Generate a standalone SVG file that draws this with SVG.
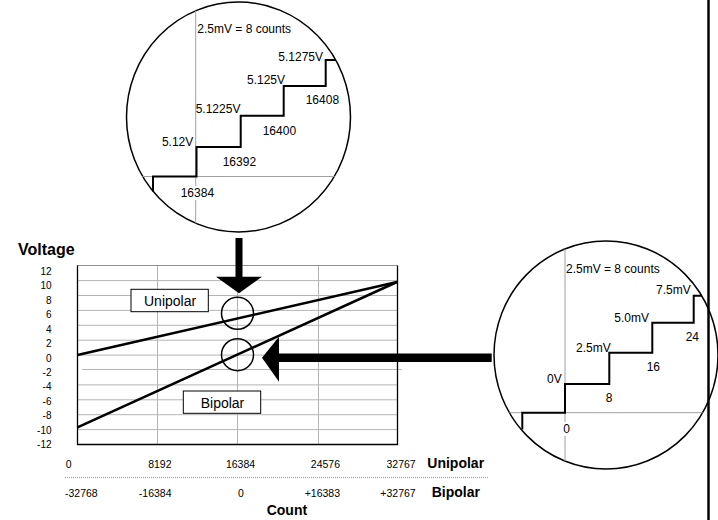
<svg xmlns="http://www.w3.org/2000/svg" width="718" height="520" viewBox="0 0 718 520">
<style>
text{font-family:"Liberation Sans",Arial,sans-serif;fill:#000}
.s{font-size:12px}
.ax{font-size:10px;text-anchor:end}
.xl{font-size:10.5px}
.b{font-weight:bold;font-size:14px}
.grid{stroke:#b4b4b4;stroke-width:1;fill:none}
.stair{stroke:#000;stroke-width:2;fill:none}
.lens{fill:#fff;stroke:#000;stroke-width:1.5}
.ring{fill:none;stroke:#000;stroke-width:1.5}
.thin{stroke:#a0a0a0;stroke-width:1}
</style>
<rect width="718" height="520" fill="#fff"/>

<g id="chart">
<g class="grid">
<line x1="77" y1="280.6" x2="397" y2="280.6"/>
<line x1="77" y1="295.5" x2="397" y2="295.5"/>
<line x1="77" y1="310.4" x2="397" y2="310.4"/>
<line x1="77" y1="325.3" x2="397" y2="325.3"/>
<line x1="77" y1="340.2" x2="397" y2="340.2"/>
<line x1="77" y1="355.1" x2="397" y2="355.1"/>
<line x1="82" y1="369.5" x2="402" y2="369.5"/>
<line x1="77" y1="384.9" x2="397" y2="384.9"/>
<line x1="77" y1="399.8" x2="397" y2="399.8"/>
<line x1="77" y1="414.7" x2="397" y2="414.7"/>
<line x1="77" y1="429.6" x2="397" y2="429.6"/>
<line x1="157.5" y1="265.5" x2="157.5" y2="444.5"/>
<line x1="237.5" y1="265.5" x2="237.5" y2="444.5"/>
<line x1="318.5" y1="265.5" x2="318.5" y2="444.5"/>
<line x1="77" y1="265.5" x2="397" y2="265.5" stroke="#909090"/>
</g>
<polyline points="77.5,265.5 77.5,444.5 397.5,444.5 397.5,265.5" fill="none" stroke="#000" stroke-width="1.3"/>
<text x="18" y="255" style="font-weight:bold;font-size:16px">Voltage</text>
<g>
<text class="ax" x="51.5" y="274.9">12</text>
<text class="ax" x="51.5" y="289.3">10</text>
<text class="ax" x="51.5" y="303.8">8</text>
<text class="ax" x="51.5" y="318.2">6</text>
<text class="ax" x="51.5" y="332.6">4</text>
<text class="ax" x="51.5" y="347.1">2</text>
<text class="ax" x="51.5" y="361.5">0</text>
<text class="ax" x="51.5" y="375.9">-2</text>
<text class="ax" x="51.5" y="390.3">-4</text>
<text class="ax" x="51.5" y="404.8">-6</text>
<text class="ax" x="51.5" y="419.2">-8</text>
<text class="ax" x="51.5" y="433.6">-10</text>
<text class="ax" x="51.5" y="448.1">-12</text>
</g>
<g class="xl">
<text x="65.7" y="468.3">0</text>
<text x="171.5" y="468.3" text-anchor="end">8192</text>
<text x="240.5" y="468.3" text-anchor="middle">16384</text>
<text x="340" y="468.3" text-anchor="end">24576</text>
<text x="415.7" y="468.3" text-anchor="end">32767</text>
<text x="65" y="497.3">-32768</text>
<text x="171.5" y="497.3" text-anchor="end">-16384</text>
<text x="241" y="497.3" text-anchor="middle">0</text>
<text x="340" y="497.3" text-anchor="end">+16383</text>
<text x="415.7" y="497.3" text-anchor="end">+32767</text>
</g>
<line x1="65" y1="477.5" x2="488" y2="477.5" stroke="#999" stroke-width="1" stroke-dasharray="1,1"/>
<text class="b" x="427.3" y="468.3">Unipolar</text>
<text class="b" x="431.7" y="497.3">Bipolar</text>
<text class="b" x="266.7" y="515">Count</text>
</g>

<g id="unipolar-line"><line x1="77.5" y1="355" x2="397" y2="282" stroke="#000" stroke-width="2.5"/></g>
<g id="bipolar-line"><line x1="77.5" y1="427.3" x2="397" y2="282" stroke="#000" stroke-width="2.5"/></g>

<g id="unipolar-label">
<rect x="131" y="289.3" width="77.3" height="22.4" fill="#fff" stroke="#000" stroke-width="1"/>
<text x="144" y="306" style="font-size:14px">Unipolar</text>
</g>
<g id="bipolar-label">
<rect x="183.3" y="391" width="77.4" height="22.3" fill="#fff" stroke="#000" stroke-width="1"/>
<text x="200.7" y="407.7" style="font-size:14px">Bipolar</text>
</g>
<g id="circle-unipolar"><circle class="ring" cx="237.5" cy="313.3" r="16"/></g>
<g id="circle-bipolar"><circle class="ring" cx="237.5" cy="354.7" r="16"/></g>

<g id="zoom-unipolar">
<ellipse class="lens" cx="238.5" cy="117" rx="112" ry="115"/>
<line class="thin" x1="195.7" y1="10.7" x2="195.7" y2="223.3"/>
<line class="thin" x1="142.4" y1="176.5" x2="334.6" y2="176.5"/>
<rect x="180" y="186" width="34" height="14" fill="#fff"/>
<polyline class="stair" points="153,191.5 153,176.5 196.5,176.5 196.5,147 240.7,147 240.7,115.7 283.7,115.7 283.7,86 325.7,86 325.7,60 335.5,60"/>
<g class="s">
<text x="197.3" y="33">2.5mV = 8 counts</text>
<text x="323" y="60.5" text-anchor="end">5.1275V</text>
<text x="285" y="84" text-anchor="end">5.125V</text>
<text x="305.7" y="104">16408</text>
<text x="195.7" y="112.7">5.1225V</text>
<text x="262.7" y="135">16400</text>
<text x="193.3" y="146" text-anchor="end">5.12V</text>
<text x="222.7" y="165.7">16392</text>
<text x="180.7" y="196.7">16384</text>
</g>
</g>

<g id="zoom-bipolar">
<ellipse class="lens" cx="606" cy="355" rx="112" ry="114"/>
<line class="thin" x1="565" y1="249" x2="565" y2="461"/>
<line class="thin" x1="509.4" y1="412.7" x2="702.6" y2="412.7"/>
<rect x="561" y="422" width="11" height="14" fill="#fff"/>
<polyline class="stair" points="522.3,429.5 522.3,412.7 565,412.7 565,384 609.3,384 609.3,352.7 652.3,352.7 652.3,322.7 693.7,322.7 693.7,295.7 701.7,295.7"/>
<g class="s">
<text x="566" y="273.3">2.5mV = 8 counts</text>
<text x="690.7" y="294.3" text-anchor="end">7.5mV</text>
<text x="649" y="322.3" text-anchor="end">5.0mV</text>
<text x="685.7" y="341">24</text>
<text x="610.7" y="351.7" text-anchor="end">2.5mV</text>
<text x="646.7" y="370.7">16</text>
<text x="561.7" y="383.3" text-anchor="end">0V</text>
<text x="605.7" y="401.7">8</text>
<text x="563.3" y="432.7">0</text>
</g>
</g>

<line x1="708.5" y1="0" x2="708.5" y2="520" stroke="#000" stroke-width="2.5"/>

<g id="connectors" fill="#000">
<polygon points="235.5,238 242.5,238 242.5,276.7 262,276.7 239,293.3 216,276.7 235.5,276.7"/>
<polygon points="491.7,353.5 491.7,362 279,362 279,381.7 262,357.7 279,336.7 279,353.5"/>
</g>
</svg>
